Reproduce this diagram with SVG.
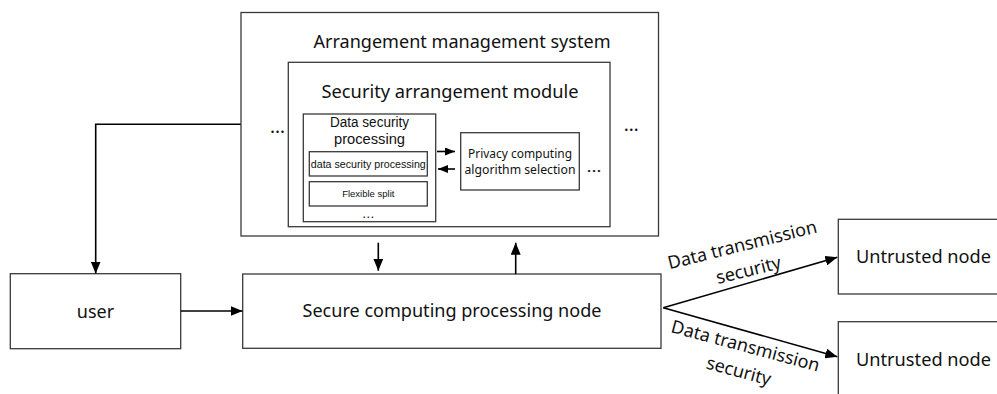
<svg xmlns="http://www.w3.org/2000/svg" width="997" height="394" viewBox="0 0 997 394">
<style>
.box{fill:#fff;stroke:#3a3a3a;stroke-width:1.3}
.ln{fill:none;stroke:#000;stroke-width:1.6}
.t{font-family:"Noto Sans","Open Sans",sans-serif;font-size:18px;fill:#111;text-anchor:middle}
.a{font-family:"Liberation Sans",Arial,sans-serif;fill:#111;text-anchor:middle}
</style>
<defs>
<marker id="ah" markerUnits="userSpaceOnUse" markerWidth="12" markerHeight="10" refX="12" refY="5" orient="auto">
<path d="M0,0 L12,5 L0,10 z" fill="#000"/>
</marker>
<marker id="as" markerUnits="userSpaceOnUse" markerWidth="10" markerHeight="8" refX="10" refY="4" orient="auto">
<path d="M0,0 L10,4 L0,8 z" fill="#000"/>
</marker>
</defs>
<rect width="997" height="394" fill="#fff"/>

<g id="arrangement-management-system">
<rect class="box" x="241" y="12.5" width="417.5" height="223.5"/>
<text class="t" x="462" y="48" textLength="297" lengthAdjust="spacingAndGlyphs">Arrangement management system</text>
<text class="t" x="277.5" y="133" textLength="15" lengthAdjust="spacingAndGlyphs">…</text>
<text class="t" x="631.3" y="131" textLength="15" lengthAdjust="spacingAndGlyphs">…</text>
</g>

<g id="security-arrangement-module">
<rect class="box" x="288.3" y="62.3" width="321.7" height="164.4"/>
<text class="t" x="450" y="98" textLength="257" lengthAdjust="spacingAndGlyphs">Security arrangement module</text>
</g>

<g id="data-security-processing">
<rect class="box" x="303.3" y="114" width="132.4" height="107.7"/>
<text class="a" x="369.5" y="127.3" font-size="14" textLength="79" lengthAdjust="spacingAndGlyphs">Data security</text>
<text class="a" x="369.5" y="144.3" font-size="14" textLength="71" lengthAdjust="spacingAndGlyphs">processing</text>
<text class="a" x="368.3" y="217.5" font-size="13" textLength="13" lengthAdjust="spacingAndGlyphs">…</text>
</g>

<g id="sub-data-security-processing">
<rect class="box" x="309.3" y="151.7" width="118" height="24.3"/>
<text class="a" x="368.3" y="167.5" font-size="10" textLength="115" lengthAdjust="spacingAndGlyphs">data security processing</text>
</g>

<g id="flexible-split">
<rect class="box" x="309.3" y="181.7" width="118" height="24.3"/>
<text class="a" x="368.3" y="196.7" font-size="9.5">Flexible split</text>
</g>

<g id="privacy-computing">
<rect class="box" x="460.7" y="132.7" width="118.6" height="57.3"/>
<text class="t" x="520" y="158.3" style="font-size:12.2px" textLength="104" lengthAdjust="spacingAndGlyphs">Privacy computing</text>
<text class="t" x="520" y="174" style="font-size:12.2px" textLength="111" lengthAdjust="spacingAndGlyphs">algorithm selection</text>
<text class="t" x="594" y="172" style="font-size:15px" textLength="15" lengthAdjust="spacingAndGlyphs">…</text>
</g>

<g id="user">
<rect class="box" x="10.3" y="273.7" width="170.4" height="75"/>
<text class="t" x="95.5" y="318">user</text>
</g>

<g id="secure-computing-processing-node">
<rect class="box" x="242.7" y="274" width="418.3" height="74.3"/>
<text class="t" x="452" y="317" textLength="299" lengthAdjust="spacingAndGlyphs">Secure computing processing node</text>
</g>

<g id="untrusted-node-1">
<rect class="box" x="838.3" y="219.3" width="170" height="74.7"/>
<text class="t" x="923.5" y="262.7" textLength="135" lengthAdjust="spacingAndGlyphs">Untrusted node</text>
</g>

<g id="untrusted-node-2">
<rect class="box" x="838.3" y="321.7" width="170" height="80"/>
<text class="t" x="923.5" y="365.7" textLength="135" lengthAdjust="spacingAndGlyphs">Untrusted node</text>
</g>

<g id="connectors">
<path class="ln" d="M240.7,124.3 H95.7 V273.5" marker-end="url(#ah)"/>
<path class="ln" d="M180.7,311 H242.5" marker-end="url(#ah)"/>
<path class="ln" d="M378.3,242.7 V270.7" marker-end="url(#ah)"/>
<path class="ln" d="M515.7,274 V242.7" marker-end="url(#ah)"/>
<path class="ln" d="M437,151.5 H455" marker-end="url(#as)"/>
<path class="ln" d="M455,169 H438" marker-end="url(#as)"/>
<path class="ln" d="M663.3,307.7 L837.3,257.3" marker-end="url(#ah)"/>
<path class="ln" d="M663.3,307.7 L837.3,356.7" marker-end="url(#ah)"/>
<g transform="translate(743.7,250.8) rotate(-14)">
<text class="t" x="0" y="0" textLength="153" lengthAdjust="spacingAndGlyphs">Data transmission</text>
<text class="t" x="0" y="26">security</text>
</g>
<g transform="translate(743.9,351.8) rotate(15)">
<text class="t" x="0" y="0" textLength="153" lengthAdjust="spacingAndGlyphs">Data transmission</text>
<text class="t" x="0" y="26">security</text>
</g>
</g>
</svg>
